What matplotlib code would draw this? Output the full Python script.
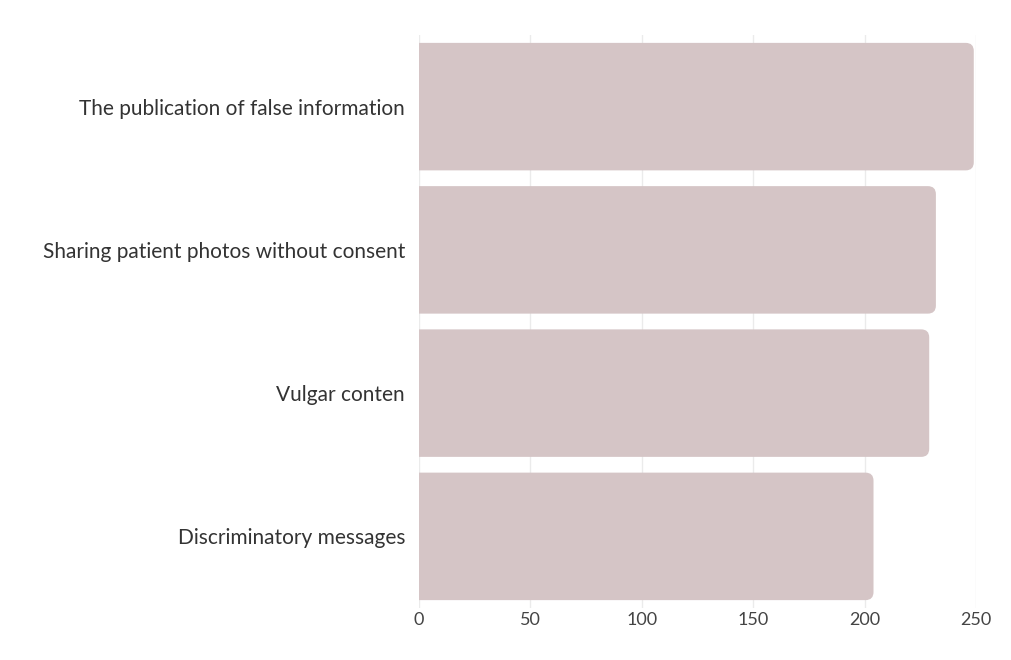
import matplotlib.pyplot as plt
from matplotlib.patches import FancyBboxPatch

# Kategorien und Werte (von oben nach unten)
categories = [
    "The publication of false information",
    "Sharing patient photos without consent",
    "Vulgar conten",
    "Discriminatory messages",
]
counts = [249, 232, 229, 204]
xticks = [0, 50, 100, 150, 200, 250]

bar_color = "#d5c5c6"

plt.rcParams["font.family"] = ["Lato", "DejaVu Sans"]

fig = plt.figure(figsize=(10.11, 6.6), dpi=100)
ax = fig.add_axes([419 / 1011, 52 / 660, 557 / 1011, 573 / 660])

pos = list(range(len(categories)))
bars = ax.barh(pos, counts, height=0.89, color=bar_color)
ax.set_xlim(0, 250)
ax.set_ylim(len(categories) - 0.5, -0.5)

# Balken rechts abrunden; links ragt die Form ueber 0 hinaus und wird abgeschnitten
r = 3.6
for b in bars:
    x, y = b.get_x(), b.get_y()
    w, h = b.get_width(), b.get_height()
    b.set_visible(False)
    ax.add_patch(FancyBboxPatch((x - 3 * r, y), w + 3 * r, h,
                                boxstyle=f"round,pad=0,rounding_size={r}",
                                mutation_aspect=0.0156,
                                facecolor=bar_color, edgecolor="none", zorder=2))

ax.set_xticks(xticks)
ax.set_yticks(pos)
ax.set_yticklabels(categories, fontsize=15, color="#333333")
ax.tick_params(axis="x", labelsize=13, colors="#444444", length=0, pad=3)
ax.tick_params(axis="y", length=0, pad=10)
ax.grid(axis="x", color="#ebebeb", linewidth=1, zorder=0)
ax.set_axisbelow(True)
for s in ax.spines.values():
    s.set_visible(False)

fig.savefig("out.png", dpi=100, facecolor="white")
